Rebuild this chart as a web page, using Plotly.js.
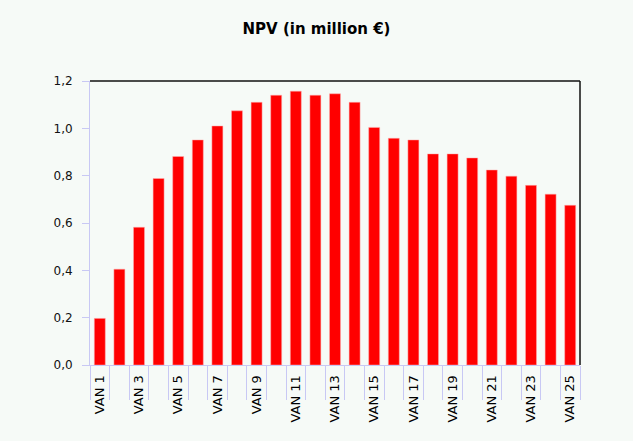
<!DOCTYPE html>
<html>
<head>
<meta charset="utf-8">
<script src="https://cdn.plot.ly/plotly-3.0.1.min.js"></script>
<style>html,body{margin:0;padding:0;background:#f6faf7;}#chart{width:633px;height:441px;}</style>
</head>
<body>
<div id="chart"></div>
<script>
const categories = ["VAN 1","VAN 2","VAN 3","VAN 4","VAN 5","VAN 6","VAN 7","VAN 8","VAN 9","VAN 10","VAN 11","VAN 12","VAN 13","VAN 14","VAN 15","VAN 16","VAN 17","VAN 18","VAN 19","VAN 20","VAN 21","VAN 22","VAN 23","VAN 24","VAN 25"];
const npv = [0.197,0.405,0.582,0.788,0.881,0.951,1.010,1.074,1.110,1.140,1.157,1.140,1.146,1.110,1.004,0.958,0.951,0.892,0.892,0.875,0.824,0.798,0.759,0.722,0.675];
const tickLabels = ["VAN 1","","VAN 3","","VAN 5","","VAN 7","","VAN 9","","VAN 11","","VAN 13","","VAN 15","","VAN 17","","VAN 19","","VAN 21","","VAN 23","","VAN 25"];
const yTicks = [0,0.2,0.4,0.6,0.8,1.0,1.2];

const lav = '#c8c8f4';
const trace = {
  type: 'bar',
  x: categories,
  y: npv,
  marker: {color: '#ff0000', line: {color: '#ffb0b0', width: 0.5}},
  hoverinfo: 'none'
};
const layout = {
  width: 633, height: 441,
  margin: {l: 90, r: 53, t: 81, b: 76},
  paper_bgcolor: '#f6faf7',
  plot_bgcolor: '#f6faf7',
  separators: ', ',
  font: {family: 'DejaVu Sans, Arial, sans-serif', size: 12, color: '#111'},
  showlegend: false,
  bargap: 0.44,
  title: {text: '<b>NPV (in million €)</b>', x: 0.5, xanchor: 'center', xref: 'container',
          y: 1 - 29/441, yanchor: 'middle', yref: 'container',
          font: {size: 15, color: '#000'}},
  xaxis: {
    type: 'category',
    tickmode: 'array', tickvals: categories, ticktext: tickLabels,
    tickson: 'boundaries', ticks: 'outside', ticklen: 34, tickcolor: lav, tickwidth: 1,
    tickangle: -90, ticklabelstandoff: 4,
    tickfont: {size: 13, color: '#000'},
    showline: true, linecolor: lav, linewidth: 1,
    showgrid: false, zeroline: false, fixedrange: true
  },
  yaxis: {
    range: [0, 1.2], tickmode: 'array', tickvals: yTicks, tickformat: '.1f',
    ticks: 'outside', ticklen: 7, tickcolor: lav, tickwidth: 1,
    ticklabelstandoff: 7,
    tickfont: {size: 12, color: '#111'},
    showline: true, linecolor: lav, linewidth: 1,
    showgrid: false, zeroline: false, fixedrange: true
  },
  shapes: [
    {type: 'line', xref: 'paper', yref: 'paper', x0: 0, x1: 1, y0: 1, y1: 1, line: {color: '#111', width: 1.5}},
    {type: 'line', xref: 'paper', yref: 'paper', x0: 1, x1: 1, y0: 0, y1: 1, line: {color: '#111', width: 1.5}}
  ]
};
Plotly.newPlot('chart', [trace], layout, {staticPlot: true, displayModeBar: false});
</script>
</body>
</html>
